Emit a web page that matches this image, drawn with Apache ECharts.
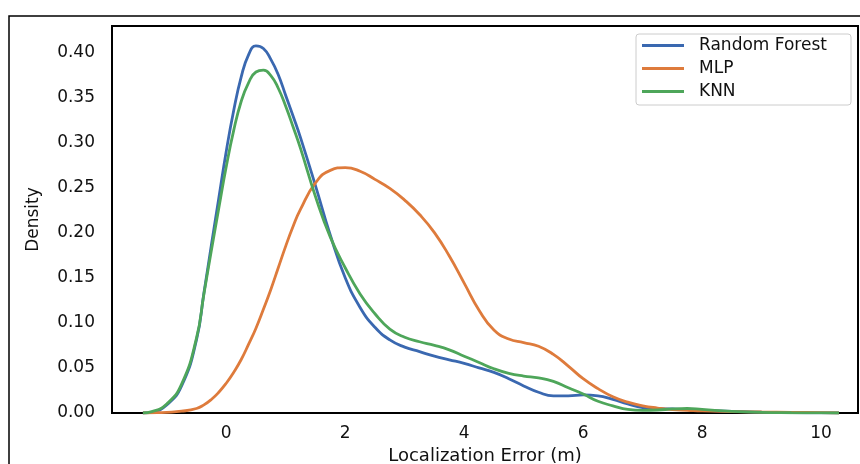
<!DOCTYPE html>
<html>
<head>
<meta charset="utf-8">
<script src="https://cdn.jsdelivr.net/npm/echarts@6/dist/echarts.min.js"></script>
<style>
html, body { margin: 0; padding: 0; background: #fff; }
#kdechart { width: 860px; height: 464px; }
</style>
</head>
<body>
<div id="kdechart"></div>
<script>
// localization error (m) sample points and the density of each model
var errorX = [-1.4, -1.25, -1.0, -0.75, -0.5, -0.375, -0.25, -0.125, 0, 0.125, 0.25, 0.375, 0.5, 0.625,
    0.75, 0.875, 1.0, 1.125, 1.25, 1.5, 1.75, 2.0, 2.25, 2.5, 2.75, 3.0, 3.25, 3.5, 3.75, 4.0,
    4.25, 4.5, 4.75, 5.0, 5.25, 5.5, 5.75, 6.0, 6.25, 6.5, 6.75, 7.0, 7.25, 7.5, 7.75, 8.0,
    8.5, 9.0, 9.5, 10.0, 10.3];
var randomForest = [0, 0.001, 0.009, 0.030, 0.081, 0.133, 0.186, 0.238, 0.290, 0.335, 0.372, 0.397, 0.407, 0.404,
    0.392, 0.375, 0.352, 0.329, 0.305, 0.252, 0.197, 0.150, 0.117, 0.095, 0.081, 0.073, 0.068, 0.063, 0.059, 0.055,
    0.050, 0.045, 0.038, 0.030, 0.023, 0.019, 0.019, 0.020, 0.019, 0.015, 0.010, 0.006, 0.0048, 0.0045, 0.004, 0.003,
    0.0017, 0.0009, 0.0004, 0.0001, 0];
var mlp = [0, 0.0002, 0.0008, 0.002, 0.005, 0.009, 0.015, 0.023, 0.033, 0.045, 0.059, 0.076, 0.094, 0.115,
    0.137, 0.161, 0.185, 0.207, 0.226, 0.255, 0.269, 0.272, 0.268, 0.259, 0.249, 0.236, 0.220, 0.200, 0.174, 0.144,
    0.114, 0.092, 0.082, 0.078, 0.074, 0.065, 0.052, 0.038, 0.027, 0.018, 0.012, 0.008, 0.0055, 0.0037, 0.003, 0.0023,
    0.0016, 0.0011, 0.0008, 0.0004, 0];
var knn = [0, 0.0015, 0.010, 0.032, 0.083, 0.132, 0.180, 0.227, 0.273, 0.313, 0.345, 0.366, 0.378, 0.380,
    0.374, 0.360, 0.340, 0.317, 0.293, 0.240, 0.195, 0.161, 0.132, 0.110, 0.093, 0.084, 0.079, 0.075, 0.070, 0.063,
    0.056, 0.049, 0.044, 0.041, 0.039, 0.035, 0.028, 0.021, 0.013, 0.008, 0.004, 0.003, 0.0033, 0.0045, 0.005, 0.004,
    0.0018, 0.0007, 0.0003, 0.0001, 0];

var seriesNames = ['Random Forest', 'MLP', 'KNN'];
var seriesColors = ['#3a68b0', '#de7b3c', '#4ea65a'];
var seriesValues = [randomForest, mlp, knn];

function pairs(values) {
    var out = [];
    for (var i = 0; i < errorX.length; i++) {
        out.push([errorX[i], values[i]]);
    }
    return out;
}

var font = 'DejaVu Sans';
var myChart = echarts.init(document.getElementById('kdechart'));

var series = [];
for (var s = 0; s < seriesNames.length; s++) {
    series.push({
        name: seriesNames[s],
        type: 'line',
        data: pairs(seriesValues[s]),
        smooth: 0.5,
        showSymbol: false,
        color: seriesColors[s],
        lineStyle: { width: 2.8, color: seriesColors[s] }
    });
}

var option = {
    animation: false,
    backgroundColor: '#fff',
    textStyle: { fontFamily: font },
    graphic: [{
        type: 'rect',
        shape: { x: 9, y: 16, width: 880, height: 480 },
        style: { fill: 'none', stroke: '#000', lineWidth: 1.5 },
        silent: true
    }],
    grid: {
        left: 112, right: 2, top: 26, bottom: 51,
        outerBoundsMode: 'none',
        show: true, borderColor: '#000', borderWidth: 2
    },
    legend: {
        orient: 'vertical',
        right: 9,
        top: 34,
        icon: 'rect',
        itemWidth: 42,
        itemHeight: 3,
        itemGap: 6,
        padding: [3, 9, 5, 6],
        borderColor: '#cccccc',
        borderWidth: 1,
        borderRadius: 3,
        textStyle: { fontFamily: font, fontSize: 17, color: '#111', lineHeight: 16, width: 143, padding: [0, 0, 0, 10] },
        data: seriesNames
    },
    xAxis: {
        type: 'value',
        min: -1.92,
        max: 10.62,
        splitNumber: 6,
        name: 'Localization Error (m)',
        nameLocation: 'middle',
        nameGap: 23,
        nameTextStyle: { fontFamily: font, fontSize: 18, color: '#111' },
        axisLine: { show: true, onZero: false, lineStyle: { color: '#000', width: 2 } },
        axisTick: { show: false },
        splitLine: { show: false },
        axisLabel: {
            margin: 12,
            fontFamily: font, fontSize: 17, color: '#111',
            formatter: function (v) {
                return Math.abs(v - Math.round(v / 2) * 2) < 1e-6 ? String(Math.round(v)) : '';
            }
        }
    },
    yAxis: {
        type: 'value',
        min: 0,
        max: 0.429,
        interval: 0.05,
        name: 'Density',
        nameLocation: 'middle',
        nameRotate: 90,
        nameGap: 70,
        nameTextStyle: { fontFamily: font, fontSize: 17, color: '#111' },
        axisLine: { show: true, onZero: false, lineStyle: { color: '#000', width: 2 } },
        axisTick: { show: false },
        splitLine: { show: false },
        axisLabel: {
            margin: 17,
            showMaxLabel: false,
            fontFamily: font, fontSize: 17, color: '#111',
            formatter: function (v) { return v.toFixed(2); }
        }
    },
    series: series
};
myChart.setOption(option);
</script>
</body>
</html>
